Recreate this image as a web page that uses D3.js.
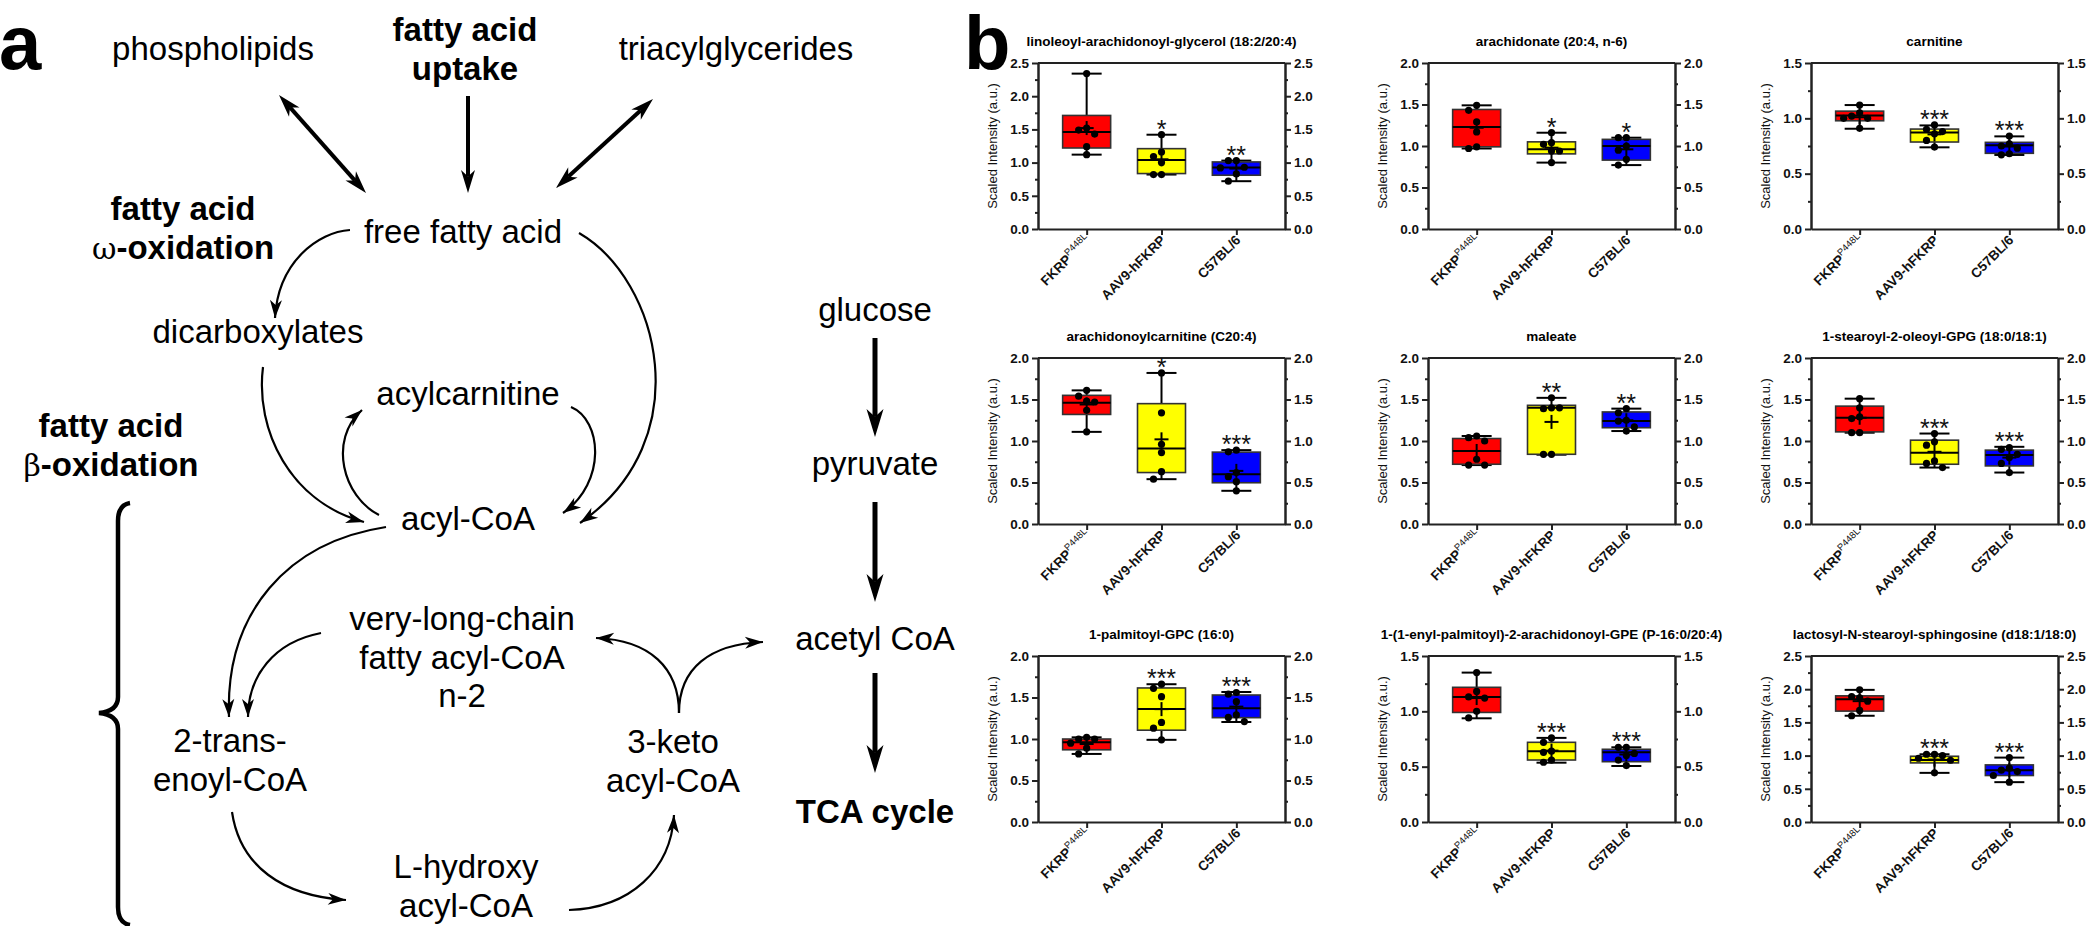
<!DOCTYPE html>
<html>
<head>
<meta charset="utf-8">
<script src="https://cdn.jsdelivr.net/npm/d3@7"></script>
<style>
  body { margin: 0; background: #fff; }
  svg { display: block; font-family: "Liberation Sans", Arial, sans-serif; }
</style>
</head>
<body>
<svg id="fig" width="2094" height="926"></svg>
<script>
// ---- panel b data ----
const groupNames = ['FKRP', 'AAV9-hFKRP', 'C57BL/6']
const groupColors = ['#ff0000', '#ffff00', '#0000ff']

const panelTitles = [
  'linoleoyl-arachidonoyl-glycerol (18:2/20:4)',
  'arachidonate (20:4, n-6)',
  'carnitine',
  'arachidonoylcarnitine (C20:4)',
  'maleate',
  '1-stearoyl-2-oleoyl-GPG (18:0/18:1)',
  '1-palmitoyl-GPC (16:0)',
  '1-(1-enyl-palmitoyl)-2-arachidonoyl-GPE (P-16:0/20:4)',
  'lactosyl-N-stearoyl-sphingosine (d18:1/18:0)'
]
const panelMax = [2.5, 2.0, 1.5, 2.0, 2.0, 2.0, 2.0, 1.5, 2.5]

// [min, q1, median, q3, max, mean] per group
const boxStats = [
  [[1.12, 1.22, 1.46, 1.71, 2.34, 1.52], [0.82, 0.835, 1.04, 1.21, 1.42, 1.05], [0.72, 0.81, 0.925, 1.01, 1.03, 0.91]],
  [[0.97, 0.99, 1.23, 1.44, 1.49, 1.22], [0.80, 0.905, 0.96, 1.05, 1.16, 0.98], [0.77, 0.83, 1.00, 1.08, 1.10, 0.96]],
  [[0.906, 0.978, 1.026, 1.065, 1.12, 1.01], [0.738, 0.786, 0.873, 0.903, 0.936, 0.855], [0.669, 0.684, 0.756, 0.783, 0.837, 0.745]],
  [[1.11, 1.32, 1.46, 1.55, 1.61, 1.44], [0.54, 0.62, 0.91, 1.45, 1.82, 1.02], [0.40, 0.497, 0.60, 0.866, 0.89, 0.64]],
  [[0.71, 0.72, 0.88, 1.03, 1.06, 0.88], [0.835, 0.84, 1.40, 1.43, 1.52, 1.23], [1.12, 1.16, 1.24, 1.35, 1.39, 1.25]],
  [[1.10, 1.11, 1.28, 1.42, 1.51, 1.28], [0.68, 0.72, 0.857, 1.01, 1.09, 0.87], [0.62, 0.70, 0.83, 0.89, 0.93, 0.80]],
  [[0.82, 0.87, 0.96, 1.00, 1.02, 0.94], [0.99, 1.106, 1.36, 1.615, 1.66, 1.36], [1.205, 1.257, 1.37, 1.53, 1.566, 1.39]],
  [[0.937, 0.99, 1.13, 1.217, 1.35, 1.12], [0.536, 0.56, 0.64, 0.72, 0.76, 0.645], [0.506, 0.545, 0.63, 0.657, 0.675, 0.61]],
  [[1.60, 1.67, 1.85, 1.90, 1.99, 1.82], [0.74, 0.89, 0.935, 0.99, 1.02, 0.94], [0.60, 0.70, 0.78, 0.86, 0.97, 0.78]]
]

// individual animals
const dotValues = [
  [[2.34, 1.52, 1.49, 1.43, 1.24, 1.12], [1.42, 1.16, 1.09, 1.00, 0.82, 0.82], [1.03, 1.03, 0.93, 0.92, 0.83, 0.72]],
  [[1.49, 1.43, 1.29, 1.17, 0.99, 0.97], [1.16, 1.04, 1.02, 0.94, 0.94, 0.80], [1.10, 1.10, 1.00, 0.95, 0.84, 0.77]],
  [[1.12, 1.05, 1.02, 1.00, 1.00, 0.91], [0.94, 0.90, 0.88, 0.86, 0.80, 0.74], [0.84, 0.77, 0.75, 0.73, 0.68, 0.67]],
  [[1.61, 1.54, 1.48, 1.47, 1.37, 1.11], [1.82, 1.34, 0.96, 0.86, 0.63, 0.54], [0.89, 0.87, 0.62, 0.57, 0.51, 0.40]],
  [[1.06, 1.04, 1.00, 0.78, 0.71, 0.71], [1.52, 1.40, 1.39, 1.40, 0.84, 0.84], [1.39, 1.34, 1.25, 1.24, 1.17, 1.12]],
  [[1.51, 1.40, 1.29, 1.27, 1.10, 1.10], [1.09, 0.99, 0.95, 0.76, 0.73, 0.68], [0.92, 0.90, 0.84, 0.80, 0.73, 0.62]],
  [[1.02, 1.00, 1.00, 0.95, 0.89, 0.82], [1.66, 1.61, 1.51, 1.20, 1.13, 0.99], [1.56, 1.54, 1.45, 1.29, 1.26, 1.21]],
  [[1.35, 1.18, 1.13, 1.12, 1.00, 0.94], [0.76, 0.72, 0.64, 0.63, 0.56, 0.54], [0.675, 0.675, 0.62, 0.60, 0.56, 0.51]],
  [[1.99, 1.89, 1.87, 1.82, 1.68, 1.60], [1.02, 1.02, 1.00, 0.96, 0.93, 0.74], [0.97, 0.81, 0.78, 0.76, 0.70, 0.60]]
]

const starLabels = [
  ['', '*', '**'], ['', '*', '*'], ['', '***', '***'],
  ['', '*', '***'], ['', '**', '**'], ['', '***', '***'],
  ['', '***', '***'], ['', '***', '***'], ['', '***', '***']
]

// ---- panel a: pathway nodes and connections ----
const pathwayLabels = [
  { lines: ['phospholipids'], x: 213, y: 60 },
  { lines: ['fatty acid', 'uptake'], x: 465, y: 41, bold: true },
  { lines: ['triacylglycerides'], x: 736, y: 60 },
  { lines: ['fatty acid', '\u03c9|-oxidation'], x: 183, y: 220, bold: true },
  { lines: ['free fatty acid'], x: 463, y: 243 },
  { lines: ['dicarboxylates'], x: 258, y: 343 },
  { lines: ['acylcarnitine'], x: 468, y: 405 },
  { lines: ['fatty acid', '\u03b2|-oxidation'], x: 111, y: 437, bold: true },
  { lines: ['acyl-CoA'], x: 468, y: 530 },
  { lines: ['very-long-chain', 'fatty acyl-CoA', 'n-2'], x: 462, y: 630 },
  { lines: ['2-trans-', 'enoyl-CoA'], x: 230, y: 752 },
  { lines: ['L-hydroxy', 'acyl-CoA'], x: 466, y: 878 },
  { lines: ['3-keto', 'acyl-CoA'], x: 673, y: 753 },
  { lines: ['glucose'], x: 875, y: 321 },
  { lines: ['pyruvate'], x: 875, y: 475 },
  { lines: ['acetyl CoA'], x: 875, y: 650 },
  { lines: ['TCA cycle'], x: 875, y: 823, bold: true }
]

// straight arrows: [x1, y1, x2, y2, size, double]
const straightArrows = [
  [279, 95, 366, 193, 'm', true],
  [468, 96, 468, 193, 'm', false],
  [653, 99, 556, 188, 'm', true],
  [875, 338, 875, 437, 'l', false],
  [875, 502, 875, 602, 'l', false],
  [875, 673, 875, 773, 'l', false]
]

// curved arrows as cubic beziers: start, c1, c2, tip
const curvedArrows = [
  [350, 230, 318, 232, 278, 262, 275, 318],
  [579, 233, 660, 280, 700, 440, 580, 523],
  [571, 407, 602, 420, 607, 482, 563, 513],
  [379, 515, 343, 497, 328, 440, 362, 410],
  [263, 367, 255, 430, 290, 502, 364, 522],
  [386, 527, 288, 542, 225, 612, 229, 717],
  [321, 633, 274, 642, 248, 676, 248, 717],
  [232, 812, 240, 866, 282, 896, 346, 900],
  [569, 910, 630, 908, 671, 870, 674, 815],
  [679, 713, 679, 668, 650, 640, 596, 638],
  [679, 713, 679, 668, 710, 644, 763, 642]
]

const svg = d3.select('#fig')
svg.append('rect').attr('width', 2094).attr('height', 926).attr('fill', '#fff')

// arrowhead polygon at a tip pointing along angle
function arrowHead(g, tx, ty, ang, len, wid) {
  const dx = Math.cos(ang), dy = Math.sin(ang)
  const px = -dy, py = dx
  const pts = [
    [tx, ty],
    [tx - len * dx + wid / 2 * px, ty - len * dy + wid / 2 * py],
    [tx - len * 0.72 * dx, ty - len * 0.72 * dy],
    [tx - len * dx - wid / 2 * px, ty - len * dy - wid / 2 * py]
  ]
  g.append('path').attr('d', 'M' + pts.map(p => p.join(',')).join('L') + 'Z').attr('fill', '#000')
}

function drawPathway() {
  const g = svg.append('g').attr('class', 'pathway')

  // letter a / b
  svg.append('text').attr('x', -1).attr('y', 69).attr('font-size', 76).attr('font-weight', 'bold').text('a')
  svg.append('text').attr('x', 964).attr('y', 69).attr('font-size', 76).attr('font-weight', 'bold').text('b')

  const lineH = 38.5
  pathwayLabels.forEach(lab => {
    const t = g.append('text')
      .attr('text-anchor', 'middle')
      .attr('font-size', 33)
      .attr('font-weight', lab.bold ? 'bold' : 'normal')
    lab.lines.forEach((ln, k) => {
      const parts = ln.split('|')
      if (parts.length === 2) {
        const line = t.append('tspan').attr('x', lab.x).attr('y', lab.y + k * lineH)
        line.append('tspan').attr('font-family', '"DejaVu Serif", serif').attr('font-weight', 'normal').attr('font-size', 30).text(parts[0])
        line.append('tspan').text(parts[1])
      } else {
        t.append('tspan').attr('x', lab.x).attr('y', lab.y + k * lineH).text(ln)
      }
    })
  })

  straightArrows.forEach(([x1, y1, x2, y2, size, dbl]) => {
    const sw = size === 'l' ? 5 : 4
    const len = size === 'l' ? 28 : 23
    const wid = size === 'l' ? 17 : 14
    const ang = Math.atan2(y2 - y1, x2 - x1)
    const cut = len * 0.72
    const sx = dbl ? x1 + cut * Math.cos(ang) : x1
    const sy = dbl ? y1 + cut * Math.sin(ang) : y1
    g.append('line')
      .attr('x1', sx).attr('y1', sy)
      .attr('x2', x2 - cut * Math.cos(ang)).attr('y2', y2 - cut * Math.sin(ang))
      .attr('stroke', '#000').attr('stroke-width', sw)
    arrowHead(g, x2, y2, ang, len, wid)
    if (dbl) arrowHead(g, x1, y1, ang + Math.PI, len, wid)
  })

  curvedArrows.forEach(c => {
    const path = d3.path()
    path.moveTo(c[0], c[1])
    path.bezierCurveTo(c[2], c[3], c[4], c[5], c[6], c[7])
    g.append('path').attr('d', path.toString())
      .attr('fill', 'none').attr('stroke', '#000').attr('stroke-width', 2.2)
    const ang = Math.atan2(c[7] - c[5], c[6] - c[4])
    arrowHead(g, c[6], c[7], ang, 18, 12)
  })

  // beta-oxidation brace
  const bx = 118, top = 503, bot = 925, mid = 713
  g.append('path')
    .attr('d', `M${bx + 12},${top} Q${bx},${top + 2} ${bx},${top + 18} L${bx},${mid - 16} Q${bx},${mid - 2} ${bx - 19},${mid} Q${bx},${mid + 2} ${bx},${mid + 16} L${bx},${bot - 18} Q${bx},${bot - 2} ${bx + 12},${bot}`)
    .attr('fill', 'none').attr('stroke', '#000').attr('stroke-width', 4.5)
}

// ---- panel b ----
const colLeft = [1038, 1428, 1811]
const rowTop = [63, 358, 656]
const plotW = 247
const plotH = 166
const boxW = 48
const capW = 30

function swarm(values, y) {
  const placed = []
  return values.map(v => {
    const py = y(v)
    for (const s of [0, -1, 1, -2, 2, -3, 3]) {
      const px = s * 8
      if (placed.every(p => Math.hypot(p[0] - px, p[1] - py) >= 7.5)) {
        placed.push([px, py])
        return [px, py]
      }
    }
    placed.push([0, py])
    return [0, py]
  })
}

function styleAxis(ax) {
  ax.select('.domain').attr('stroke', '#222').attr('stroke-width', 2)
  ax.selectAll('.tick line').attr('stroke', '#222').attr('stroke-width', 2)
  ax.selectAll('.tick text')
    .attr('font-family', '"Liberation Sans", Arial, sans-serif')
    .attr('font-size', 13.5).attr('font-weight', 'bold').attr('fill', '#111')
}

function drawPanel(i) {
  const col = i % 3, row = Math.floor(i / 3)
  const g = svg.append('g').attr('transform', `translate(${colLeft[col]},${rowTop[row]})`)
  const max = panelMax[i]

  const y = d3.scaleLinear().domain([0, max]).range([plotH, 0])
  const x = d3.scalePoint().domain(groupNames).range([0, plotW]).padding(0.65)

  const major = d3.range(0, max + 0.001, 0.5)
  const minor = d3.range(0.25, max, 0.5)

  // title
  g.append('text').attr('x', plotW / 2).attr('y', -17)
    .attr('text-anchor', 'middle').attr('font-size', 13.5).attr('font-weight', 'bold')
    .text(panelTitles[i])

  // top frame
  g.append('line').attr('x1', 0).attr('x2', plotW).attr('y1', 0).attr('y2', 0)
    .attr('stroke', '#222').attr('stroke-width', 2)

  // minor ticks
  g.append('g').call(d3.axisLeft(y).tickValues(minor).tickSize(3).tickFormat('').tickSizeOuter(0)).call(styleAxis)
  g.append('g').attr('transform', `translate(${plotW},0)`)
    .call(d3.axisRight(y).tickValues(minor).tickSize(3).tickFormat('').tickSizeOuter(0)).call(styleAxis)

  // major axes
  g.append('g').call(d3.axisLeft(y).tickValues(major).tickFormat(d3.format('.1f')).tickSize(6).tickSizeOuter(0)).call(styleAxis)
  g.append('g').attr('transform', `translate(${plotW},0)`)
    .call(d3.axisRight(y).tickValues(major).tickFormat(d3.format('.1f')).tickSize(6).tickSizeOuter(0)).call(styleAxis)

  g.append('g').attr('transform', `translate(0,${plotH})`)
    .call(d3.axisBottom(x).tickSize(6).tickFormat('').tickSizeOuter(0)).call(styleAxis)

  // y label
  g.append('text')
    .attr('transform', `translate(-41,${plotH / 2}) rotate(-90)`)
    .attr('text-anchor', 'middle').attr('font-size', 13).attr('fill', '#111')
    .text('Scaled Intensity (a.u.)')

  // rotated category labels
  groupNames.forEach(name => {
    const t = g.append('text')
      .attr('transform', `translate(${x(name) + 5},${plotH + 12}) rotate(-45)`)
      .attr('text-anchor', 'end').attr('font-size', 13.5).attr('font-weight', 'bold').attr('fill', '#111')
    t.append('tspan').text(name)
    if (name === 'FKRP') {
      t.append('tspan').attr('dy', -6).attr('font-size', 9.5).attr('font-weight', 'normal').text('P448L')
    }
  })

  // boxes
  groupNames.forEach((name, j) => {
    const [mn, q1, med, q3, mx, mean] = boxStats[i][j]
    const cx = x(name)
    const bg = g.append('g')

    bg.append('line').attr('x1', cx).attr('x2', cx).attr('y1', y(mx)).attr('y2', y(mn))
      .attr('stroke', '#000').attr('stroke-width', 2)
    ;[mx, mn].forEach(v => {
      bg.append('line').attr('x1', cx - capW / 2).attr('x2', cx + capW / 2).attr('y1', y(v)).attr('y2', y(v))
        .attr('stroke', '#000').attr('stroke-width', 2)
    })
    bg.append('rect').attr('x', cx - boxW / 2).attr('y', y(q3))
      .attr('width', boxW).attr('height', y(q1) - y(q3))
      .attr('fill', groupColors[j]).attr('stroke', '#333').attr('stroke-width', 1.6)
    bg.append('line').attr('x1', cx - boxW / 2).attr('x2', cx + boxW / 2).attr('y1', y(med)).attr('y2', y(med))
      .attr('stroke', '#000').attr('stroke-width', 2)
    // mean +
    bg.append('line').attr('x1', cx - 7).attr('x2', cx + 7).attr('y1', y(mean)).attr('y2', y(mean))
      .attr('stroke', '#000').attr('stroke-width', 2)
    bg.append('line').attr('x1', cx).attr('x2', cx).attr('y1', y(mean) - 7).attr('y2', y(mean) + 7)
      .attr('stroke', '#000').attr('stroke-width', 2)

    bg.selectAll('circle.dot')
      .data(swarm(dotValues[i][j], y))
      .enter().append('circle').attr('class', 'dot')
      .attr('cx', d => cx + d[0]).attr('cy', d => d[1]).attr('r', 3.6).attr('fill', '#000')

    if (starLabels[i][j]) {
      bg.append('text').attr('x', cx).attr('y', y(mx) + 3)
        .attr('text-anchor', 'middle').attr('font-size', 25).attr('fill', '#111')
        .text(starLabels[i][j])
    }
  })
}

drawPathway()
d3.range(9).forEach(drawPanel)
</script>
</body>
</html>
